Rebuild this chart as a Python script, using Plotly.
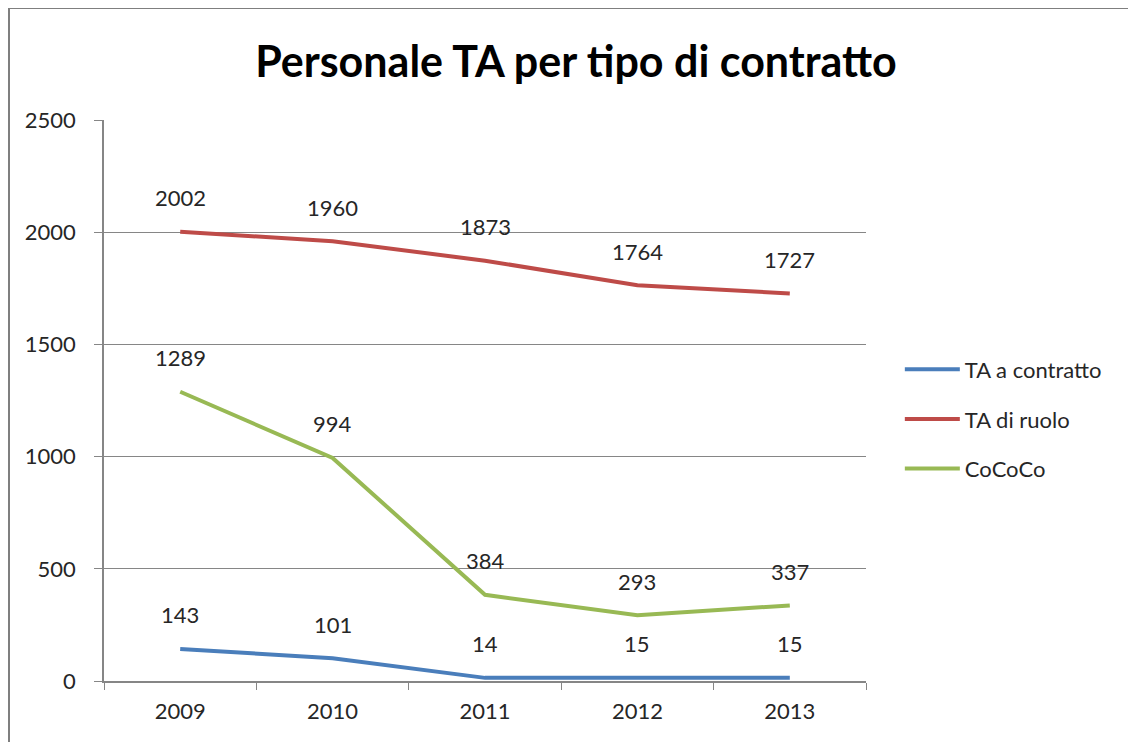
import plotly.graph_objects as go

years = ["2009", "2010", "2011", "2012", "2013"]
ta_contratto = [143, 101, 14, 15, 15]
ta_ruolo = [2002, 1960, 1873, 1764, 1727]
cococo = [1289, 994, 384, 293, 337]

series = [
    ("TA a contratto", ta_contratto, "#4A7EBB"),
    ("TA di ruolo", ta_ruolo, "#BE4B48"),
    ("CoCoCo", cococo, "#98B954"),
]

FONT = "Lato"

fig = go.Figure()
for i, (name, vals, color) in enumerate(series):
    fig.add_trace(go.Scatter(
        x=years, y=vals, name=name, mode="lines",
        line=dict(color=color, width=4),
        legendgroup=f"g{i}",
    ))

anns = []
for i, (name, vals, color) in enumerate(series):
    for j, v in enumerate(vals):
        anns.append(go.layout.Annotation(
            x=j, y=v, xref="x", yref="y", text=str(v), showarrow=False,
            yshift=34, font=dict(size=22, color="#262626"),
        ))

fig.update_layout(
    width=1136, height=742,
    margin=dict(l=96, r=278, t=112, b=69),
    paper_bgcolor="white", plot_bgcolor="white",
    title=dict(text="<b>Personale TA per tipo di contratto</b>",
               x=(576 - 8) / 1136, xanchor="center", y=1 - 54 / 742, yanchor="middle",
               yref="container",
               font=dict(family=FONT, size=43, color="black")),
    font=dict(family=FONT, size=22, color="#262626"),
    showlegend=True,
    legend=dict(x=1.0444, xanchor="left", y=0.467, yanchor="middle",
                font=dict(family=FONT, size=22, color="#262626"),
                tracegroupgap=18, itemwidth=55, bgcolor="rgba(0,0,0,0)"),
    annotations=anns,
    shapes=[dict(type="line", xref="paper", yref="paper",
                 x0=(9 - 104) / 762, x1=(9 - 104) / 762,
                 y0=(681 - 745) / 561, y1=(681 - 8) / 561,
                 line=dict(color="#7f7f7f", width=2)),
            dict(type="line", xref="paper", yref="paper",
                 x0=(9 - 104) / 762, x1=(1140 - 104) / 762,
                 y0=(681 - 8) / 561, y1=(681 - 8) / 561,
                 line=dict(color="#7f7f7f", width=2))],
)

fig.update_xaxes(
    type="category", range=[-0.5, 4.5],
    showline=True, linecolor="#868686", linewidth=1.5,
    ticks="outside", tickson="boundaries", ticklen=7, tickcolor="#868686",
    showgrid=False, tickfont=dict(size=22, color="#262626"),
    ticklabelstandoff=10,
)
fig.update_yaxes(
    range=[0, 2500], dtick=500, tickmode="linear",
    showline=True, linecolor="#868686", linewidth=1.5,
    ticks="outside", ticklen=8, tickcolor="#868686",
    showgrid=True, gridcolor="#868686", gridwidth=1.2,
    zeroline=False, tickfont=dict(size=22, color="#262626"),
    ticklabelstandoff=14,
)

fig.write_html("out.html")
